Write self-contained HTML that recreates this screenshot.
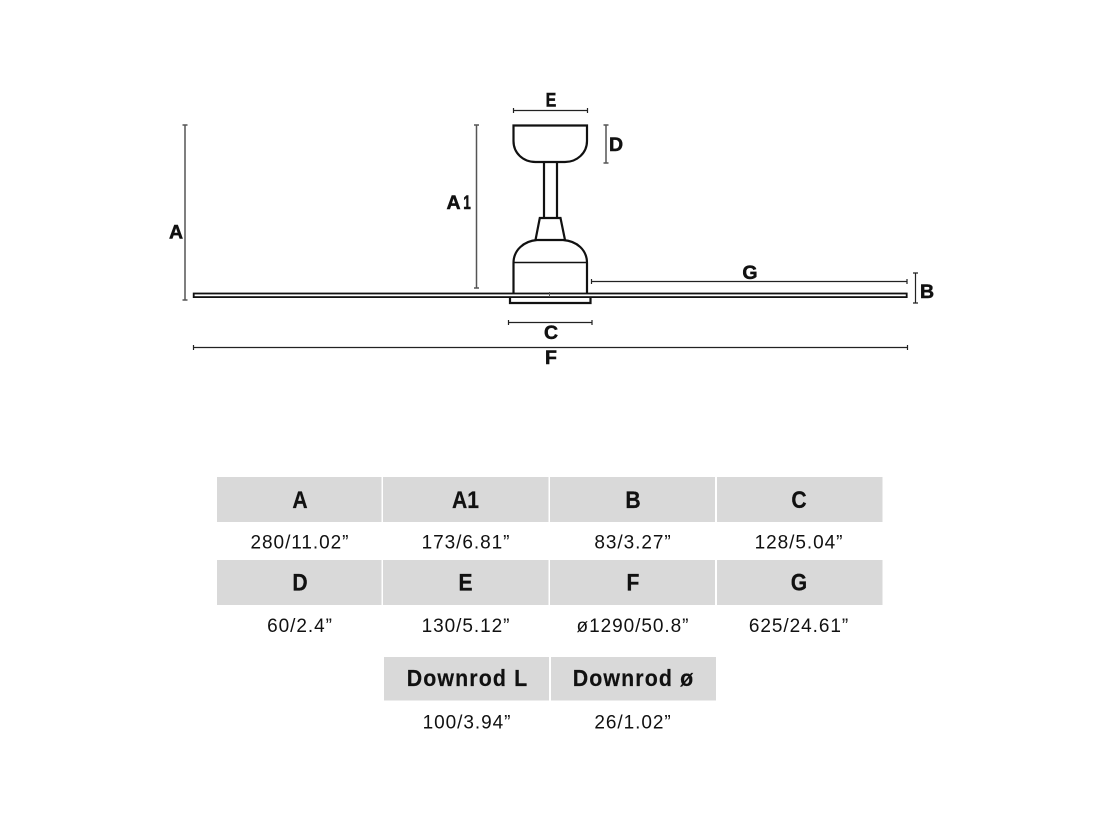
<!DOCTYPE html>
<html>
<head>
<meta charset="utf-8">
<style>
html,body{margin:0;padding:0;background:#fff;}
svg{display:block;}
text{font-family:"Liberation Sans",sans-serif;text-anchor:middle;}
.d{font-size:19.500px;font-weight:bold;fill:#111;stroke:#111;stroke-width:.5px;}
.h{font-size:24px;font-weight:bold;fill:#111;stroke:#111;stroke-width:.25px;}
.dr{font-size:23px;font-weight:bold;fill:#111;letter-spacing:1.2px;stroke:#111;stroke-width:.2px;}
.v{font-size:19px;fill:#111;letter-spacing:.95px;}
.c{fill:#d9d9d9;}
.o{fill:none;stroke:#111;stroke-width:2.2;}
.l{fill:none;stroke:#222;stroke-width:1.2;}
.g{fill:none;stroke:#555;stroke-width:1.5;}
</style>
</head>
<body>
<svg width="1097" height="822" viewBox="0 0 1097 822" xmlns="http://www.w3.org/2000/svg">
<rect width="1097" height="822" fill="#fff"/>

<!-- fan drawing -->
<path class="o" d="M513.5 125.5H587V141C587 153 577 162 565 162H535.500C523 162 513.5 153 513.5 141Z"/>
<path class="o" d="M544 162V218M557 162V218"/>
<path class="o" d="M535.5 240L539.8 218H560.5L565 240"/>
<path class="o" d="M513.5 293V263C513.5 250 524 241 537 240H563C577 241 587 250 587 263V293"/>
<path d="M513.5 262.5H587" stroke="#111" stroke-width="1.4" fill="none"/>
<rect x="193.7" y="293.500" width="713" height="3.600" fill="none" stroke="#111" stroke-width="1.800"/>
<path class="o" d="M510 298V303H590.5V298"/>
<path d="M549.5 292V297" stroke="#555" stroke-width="1"/>

<!-- dimension lines -->
<path class="l" d="M513.5 110.5H587.5M513.5 108V113M587.5 108V113"/>
<path class="g" d="M606 125V163M603.500 125H608.500M603.500 163H608.500"/>
<path class="g" d="M476.5 125V288M474 125H479M474 288H479"/>
<path class="g" d="M185 125V300M182.500 125H187.500M182.500 300H187.500"/>
<path class="l" d="M591.5 281.5H907M591.5 279V284M907 279V284"/>
<path class="l" d="M915.5 273V303M913 273H918M913 303H918"/>
<path class="l" d="M508.5 322.5H592M508.5 320V325M592 320V325"/>
<path class="l" d="M193.5 347.5H907.5M193.5 345V350M907.5 345V350"/>

<!-- drawing labels -->
<text class="d" transform="translate(551 106.500) scale(.82 1)">E</text>
<text class="d" x="616" y="151">D</text>
<text class="d" x="453.500" y="209">A</text>
<text class="d" transform="translate(467 209) scale(.7 1)">1</text>
<text class="d" x="176" y="238.500">A</text>
<text class="d" x="750" y="279">G</text>
<text class="d" x="927" y="298">B</text>
<text class="d" x="551" y="339">C</text>
<text class="d" x="551" y="364">F</text>

<!-- table row 1 -->
<rect class="c" x="217" y="477" width="164.500" height="45"/>
<rect class="c" x="383" y="477" width="165.500" height="45"/>
<rect class="c" x="550" y="477" width="165" height="45"/>
<rect class="c" x="717" y="477" width="165.500" height="45"/>
<text class="h" transform="translate(300 508) scale(.88 1)">A</text>
<text class="h" transform="translate(465.500 508) scale(.88 1)">A1</text>
<text class="h" transform="translate(633 508) scale(.88 1)">B</text>
<text class="h" transform="translate(799 508) scale(.88 1)">C</text>
<text class="v" x="300" y="548.500">280/11.02”</text>
<text class="v" x="466" y="548.500">173/6.81”</text>
<text class="v" x="633" y="548.500">83/3.27”</text>
<text class="v" x="799" y="548.500">128/5.04”</text>

<!-- table row 2 -->
<rect class="c" x="217" y="560" width="164.500" height="45"/>
<rect class="c" x="383" y="560" width="165.500" height="45"/>
<rect class="c" x="550" y="560" width="165" height="45"/>
<rect class="c" x="717" y="560" width="165.500" height="45"/>
<text class="h" transform="translate(300 590.500) scale(.88 1)">D</text>
<text class="h" transform="translate(465.500 590.500) scale(.88 1)">E</text>
<text class="h" transform="translate(633 590.500) scale(.88 1)">F</text>
<text class="h" transform="translate(799 590.500) scale(.88 1)">G</text>
<text class="v" x="300" y="632">60/2.4”</text>
<text class="v" x="466" y="632">130/5.12”</text>
<text class="v" x="633" y="632">ø1290/50.8”</text>
<text class="v" x="799" y="632">625/24.61”</text>

<!-- table row 3 -->
<rect class="c" x="384" y="657" width="165" height="43.500"/>
<rect class="c" x="551" y="657" width="165" height="43.500"/>
<text class="dr" transform="translate(467.500 686) scale(.93 1)">Downrod L</text>
<text class="dr" transform="translate(633.500 686) scale(.93 1)">Downrod ø</text>
<text class="v" x="467" y="728.500">100/3.94”</text>
<text class="v" x="633" y="728.500">26/1.02”</text>
</svg>
</body>
</html>
